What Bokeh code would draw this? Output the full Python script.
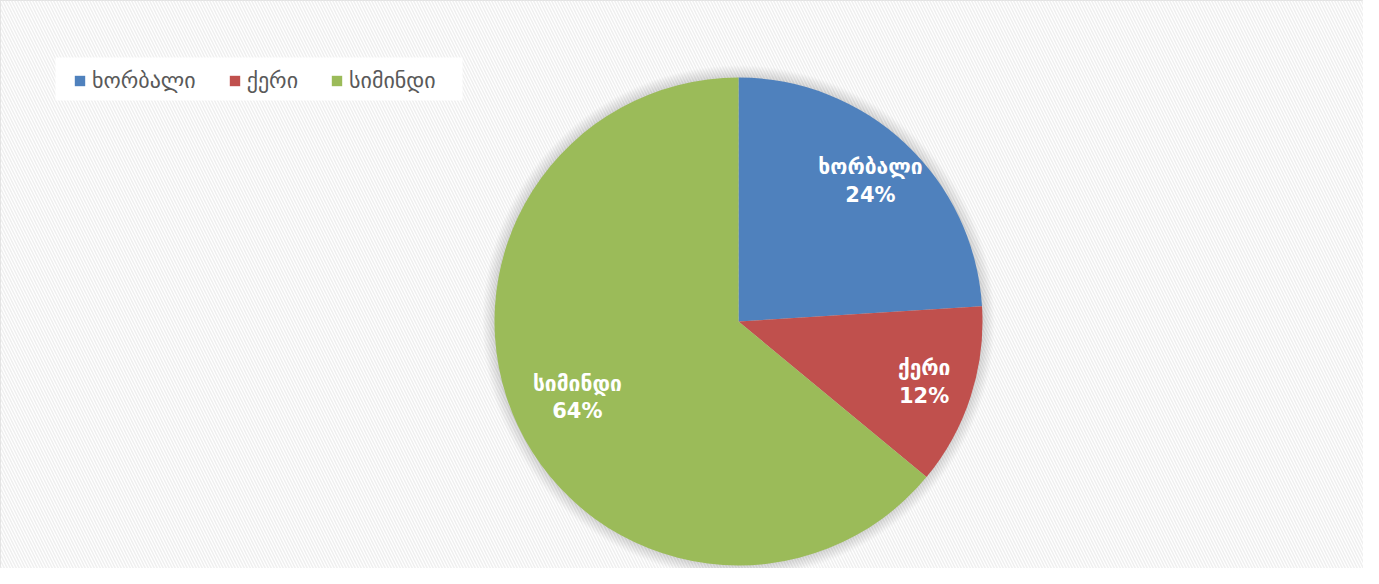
import math
from bokeh.plotting import figure
from bokeh.models import Legend, LegendItem, Range1d
from bokeh.core.properties import value
from bokeh.embed import file_html
from bokeh.resources import INLINE

categories = ["ხორბალი", "ქერი", "სიმინდი"]
shares = [24, 12, 64]
colors = ["#4F81BD", "#C0504D", "#9BBB59"]
label_radius = [0.79, 0.80, 0.73]

W, H = 1363, 568
CX, CY, R = 738, H - 321, 244

p = figure(width=W, height=H, output_backend="svg", toolbar_location=None,
           x_range=Range1d(0, W), y_range=Range1d(0, H), min_border=0)
p.axis.visible = False
p.grid.visible = False
p.outline_line_color = "#d9d9d9"
p.outline_line_width = 1
p.background_fill_color = "white"
p.border_fill_color = "white"

# hatched background
p.quad(left=[0], right=[W], bottom=[0], top=[H], fill_color="white", line_color=None,
       hatch_pattern="left_diagonal_line", hatch_color="#efefef", hatch_scale=6, hatch_weight=1.5)

# legend white box
p.quad(left=[55], right=[462], bottom=[H - 100], top=[H - 57], fill_color="white", line_color=None)

# soft shadow
for i in range(12):
    p.circle(x=[CX], y=[CY], radius=R + 12 - i, fill_color="#000000", fill_alpha=0.012,
             line_color=None)

total = sum(shares)
starts, ends, lx, ly, labels = [], [], [], [], []
ang = math.pi / 2
for c, s, f in zip(categories, shares, label_radius):
    a2 = ang - 2 * math.pi * s / total
    starts.append(ang)
    ends.append(a2)
    mid = (ang + a2) / 2
    lx.append(CX + f * R * math.cos(mid))
    ly.append(CY + f * R * math.sin(mid))
    labels.append(f"{c}\n{s}%")
    ang = a2

renderers = []
for i in range(len(categories)):
    r = p.wedge(x=CX, y=CY, radius=R, start_angle=starts[i], end_angle=ends[i],
                direction="clock", fill_color=colors[i], line_color=None)
    renderers.append(r)

p.text(x=lx, y=ly, text=labels, text_color="white", text_font=value("DejaVu Sans"),
       text_font_style="bold", text_font_size="21px", text_align="center",
       text_baseline="middle", text_line_height=1.15)

legend = Legend(items=[LegendItem(label=categories[i], renderers=[renderers[i]]) for i in range(3)],
                orientation="horizontal", location=(73, H - 93), padding=10, spacing=32,
                label_standoff=6, glyph_width=13, glyph_height=13,
                label_text_font="DejaVu Sans", label_text_font_size="22px",
                label_text_color="#595959", background_fill_alpha=0, border_line_color=None,
                margin=0)
p.add_layout(legend, "center")

open("out.html", "w").write(file_html(p, INLINE))
